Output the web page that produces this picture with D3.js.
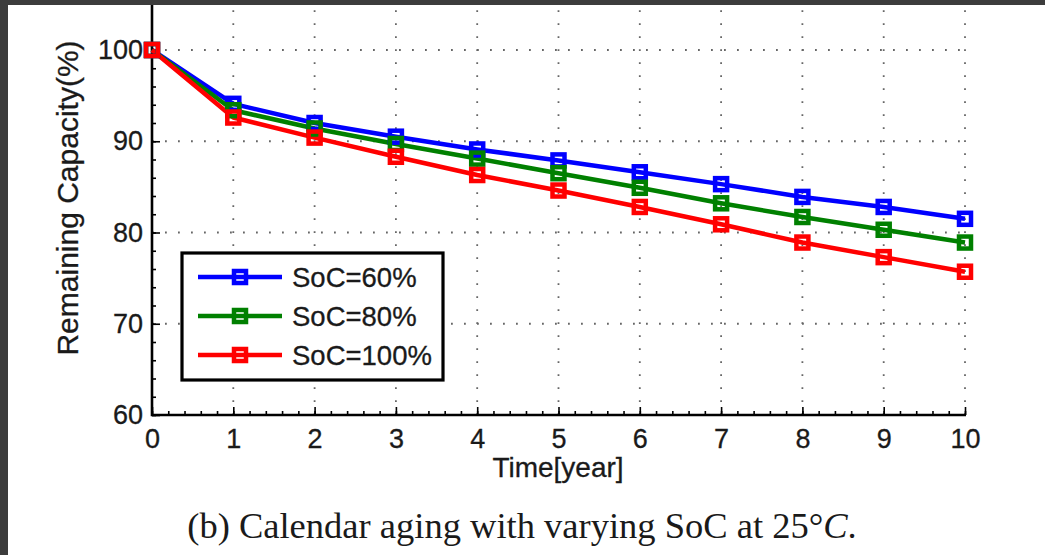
<!DOCTYPE html>
<html>
<head>
<meta charset="utf-8">
<script src="https://cdn.jsdelivr.net/npm/d3@7"></script>
<style>
  body { margin: 0; background: #fff; }
  svg { display: block; }
</style>
</head>
<body>
<svg id="chart" width="1045" height="555"></svg>
<script>
// calendar aging data
var years = [0, 1, 2, 3, 4, 5, 6, 7, 8, 9, 10];
var soc60 = [100, 94.1, 92.0, 90.5, 89.1, 87.9, 86.6, 85.3, 83.9, 82.8, 81.5];
var soc80 = [100, 93.4, 91.4, 89.7, 88.1, 86.5, 84.9, 83.2, 81.7, 80.3, 78.9];
var soc100 = [100, 92.6, 90.4, 88.3, 86.3, 84.6, 82.8, 80.9, 78.9, 77.3, 75.7];
var seriesNames = ["SoC=60%", "SoC=80%", "SoC=100%"];
var xTicks = [0, 1, 2, 3, 4, 5, 6, 7, 8, 9, 10];
var yTicks = [60, 70, 80, 90, 100];

var series = [
    { name: seriesNames[0], values: soc60, color: "#0000ff" },
    { name: seriesNames[1], values: soc80, color: "#008000" },
    { name: seriesNames[2], values: soc100, color: "#ff0000" }
];

var svg = d3.select("#chart");
var font = "'Liberation Sans', Arial, sans-serif";
var ink = "#1a1a1a";

// ---------------
// scales
var x = d3.scaleLinear().domain([0, 10]).range([152, 965]);
var y = d3.scaleLinear().domain([60, 100]).range([415, 50]);

// ---------------
// dotted grid
var grid = svg.append("g")
    .attr("stroke", "#666")
    .attr("stroke-width", 1.8)
    .attr("stroke-dasharray", "1.8,11.2");

grid.selectAll("line.v")
    .data(xTicks.slice(1))
    .enter().append("line")
    .attr("x1", function(d) { return x(d); })
    .attr("x2", function(d) { return x(d); })
    .attr("y1", y(60))
    .attr("y2", 0);

grid.selectAll("line.h")
    .data(yTicks.slice(1))
    .enter().append("line")
    .attr("x1", x(0))
    .attr("x2", x(10))
    .attr("y1", function(d) { return y(d); })
    .attr("y2", function(d) { return y(d); });

// ---------------
// axes (ticks pointing inward)
var xMinor = d3.range(0, 10.001, 0.2);
var yMinor = d3.range(60, 100.001, 2);

svg.append("g")
    .attr("transform", "translate(0," + y(60) + ")")
    .call(d3.axisBottom(x).tickValues(xMinor).tickSize(-4).tickFormat(""))
    .call(function(g) { g.select(".domain").remove(); });

svg.append("g")
    .attr("transform", "translate(" + x(0) + ",0)")
    .call(d3.axisLeft(y).tickValues(yMinor).tickSize(-4).tickFormat(""))
    .call(function(g) { g.select(".domain").remove(); });

var xAxis = svg.append("g")
    .attr("transform", "translate(0," + y(60) + ")")
    .call(d3.axisBottom(x).tickValues(xTicks).tickSize(-8).tickPadding(14));
xAxis.select(".domain").remove();

var yAxis = svg.append("g")
    .attr("transform", "translate(" + x(0) + ",0)")
    .call(d3.axisLeft(y).tickValues(yTicks).tickSize(-8).tickPadding(9));
yAxis.select(".domain").remove();

svg.selectAll(".tick line").attr("stroke", "#000").attr("stroke-width", 1.6);
svg.selectAll(".tick text")
    .attr("font-family", font)
    .attr("font-size", 27)
    .attr("fill", ink)
    .attr("stroke", ink)
    .attr("stroke-width", 0.3);
xAxis.selectAll(".tick text").attr("dy", "0.71em");

// axis lines
svg.append("path")
    .attr("d", "M" + x(0) + ",0V" + y(60) + "H" + (x(10) + 1))
    .attr("fill", "none")
    .attr("stroke", "#000")
    .attr("stroke-width", 2.6);

// ---------------
// lines and square markers
var line = d3.line()
    .x(function(d, i) { return x(years[i]); })
    .y(function(d) { return y(d); });

var ms = 12;

series.forEach(function(s) {
    svg.append("path")
        .datum(s.values)
        .attr("d", line)
        .attr("fill", "none")
        .attr("stroke", s.color)
        .attr("stroke-width", 4.5)
        .attr("stroke-linejoin", "round");
});

series.forEach(function(s) {
    svg.selectAll(null)
        .data(s.values)
        .enter().append("rect")
        .attr("x", function(d, i) { return x(years[i]) - ms / 2; })
        .attr("y", function(d) { return y(d) - ms / 2; })
        .attr("width", ms)
        .attr("height", ms)
        .attr("fill", "none")
        .attr("stroke", s.color)
        .attr("stroke-width", 4.5);
});

// ---------------
// legend
var leg = svg.append("g").attr("transform", "translate(182,253)");
leg.append("rect")
    .attr("width", 261)
    .attr("height", 127)
    .attr("fill", "#fff")
    .attr("stroke", "#000")
    .attr("stroke-width", 3.2);

series.forEach(function(s, i) {
    var ly = 24 + i * 39;
    leg.append("line")
        .attr("x1", 16).attr("x2", 100)
        .attr("y1", ly).attr("y2", ly)
        .attr("stroke", s.color)
        .attr("stroke-width", 4.5);
    leg.append("rect")
        .attr("x", 58 - ms / 2).attr("y", ly - ms / 2)
        .attr("width", ms).attr("height", ms)
        .attr("fill", "none")
        .attr("stroke", s.color)
        .attr("stroke-width", 4.5);
    leg.append("text")
        .attr("x", 110)
        .attr("y", ly)
        .attr("dy", "0.36em")
        .attr("font-family", font)
        .attr("font-size", 27.5)
        .attr("fill", ink)
        .attr("stroke", ink)
        .attr("stroke-width", 0.3)
        .text(s.name);
});

// ---------------
// axis labels and caption
svg.append("text")
    .attr("x", 558)
    .attr("y", 477)
    .attr("text-anchor", "middle")
    .attr("font-family", font)
    .attr("font-size", 28)
    .attr("fill", ink)
    .attr("stroke", ink)
    .attr("stroke-width", 0.3)
    .text("Time[year]");

svg.append("text")
    .attr("transform", "translate(78,198) rotate(-90)")
    .attr("text-anchor", "middle")
    .attr("font-family", font)
    .attr("font-size", 30)
    .attr("fill", ink)
    .attr("stroke", ink)
    .attr("stroke-width", 0.3)
    .text("Remaining Capacity(%)");

var cap = svg.append("text")
    .attr("x", 522)
    .attr("y", 538)
    .attr("text-anchor", "middle")
    .attr("font-family", "'Liberation Serif', 'Times New Roman', serif")
    .attr("font-size", 36.5)
    .attr("fill", ink);
cap.append("tspan").text("(b) Calendar aging with varying SoC at 25°");
cap.append("tspan").attr("font-style", "italic").text("C");
cap.append("tspan").text(".");

// dark screenshot borders
svg.append("rect").attr("x", 0).attr("y", 0).attr("width", 1045).attr("height", 5).attr("fill", "#3c3c3c");
svg.append("rect").attr("x", 0).attr("y", 0).attr("width", 8).attr("height", 555).attr("fill", "#3c3c3c");
</script>
</body>
</html>
